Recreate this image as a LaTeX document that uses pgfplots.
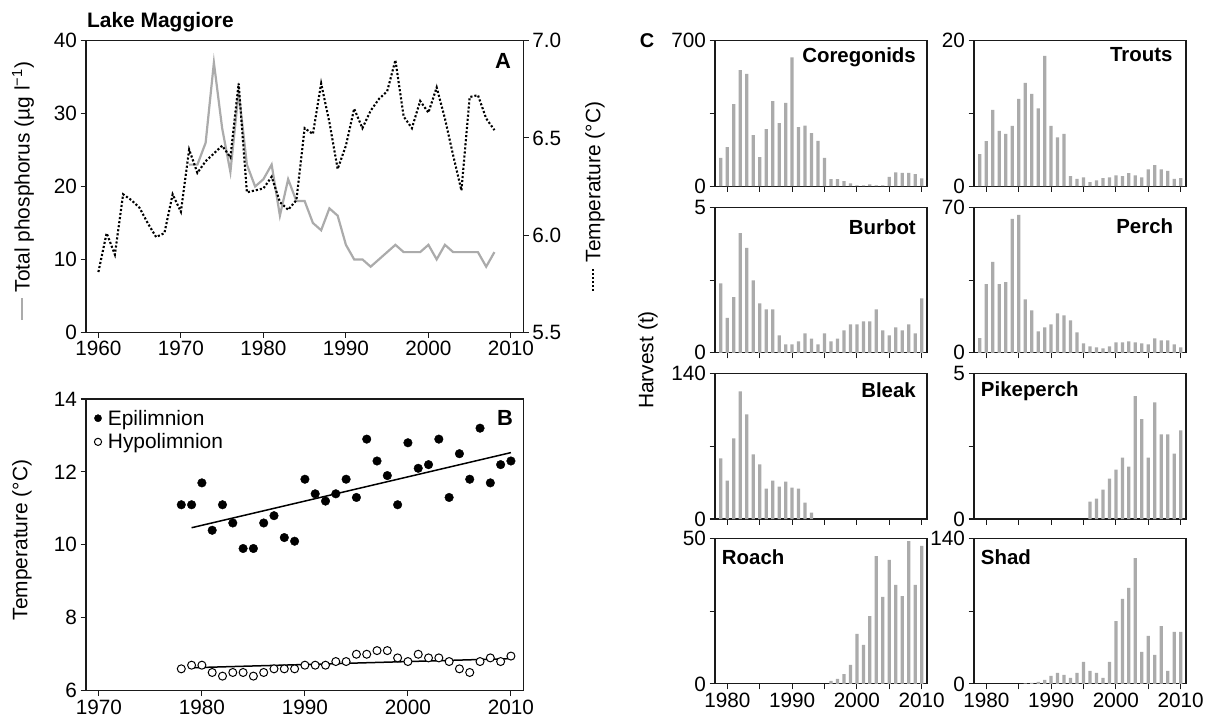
\documentclass[border=0pt]{standalone}
\usepackage{pgfplots}
\pgfplotsset{compat=1.18}
\usepackage{fontspec}
\setmainfont{Liberation Sans}
\definecolor{lgray}{HTML}{ABABAB}
\definecolor{axcol}{HTML}{1A1A1A}
\newcommand{\fs}{\fontsize{21}{24}\selectfont}
\newcommand{\ts}{\fontsize{20.8}{24}\selectfont}
\newcommand{\grayline}{{\color{lgray}\rule[0.3em]{22bp}{2.2bp}}}
\newcommand{\dotline}{\hbox to 24bp{\xleaders\hbox to 4bp{\hss\rule[0.3em]{2.1bp}{2.1bp}\hss}\hfill}}
\tikzset{lab/.style={font=\bfseries\fontsize{20.5}{24}\selectfont, inner sep=0pt}}
\pgfplotsset{
  base/.style={
    scale only axis, anchor=south west,
    axis line style={line width=1.1bp, draw=axcol},
    tick style={line width=1.1bp, draw=axcol},
    major tick length=5.5bp,
    tick align=outside,
    xtick pos=left, ytick pos=left,
    tick label style={font=\ts, text=black},
    /pgf/number format/assume math mode=true,
    x tick label style={/pgf/number format/1000 sep={}},
  },
  harv/.style={base, width=212bp, height=145.5bp, xmin=1978.1, xmax=2010.82, ymin=0,
    xtick={1980,1985,...,2010}, xticklabels={}},
  hbar/.style={ybar, bar width=0.5, fill=lgray, draw=none},
}
\begin{document}
\begin{tikzpicture}
\path[use as bounding box] (0bp,0bp) rectangle (1213bp,-725bp);

% ---------- Panel A ----------
\begin{axis}[base, at={(86bp,-332.3bp)}, width=437.3bp, height=291.6bp,
  xmin=1958.5, xmax=2011.5, ymin=0, ymax=40,
  xtick={1960,1970,...,2010}, ytick={0,10,...,40}]
\addplot[lgray, line width=2.2bp] coordinates {
(1971,23)(1972,23)(1973,26)(1974,37)(1975,28)(1976,22)(1977,33)(1978,23)(1979,20)(1980,21)
(1981,23)(1982,16)(1983,21)(1984,18)(1985,18)(1986,15)(1987,14)(1988,17)(1989,16)
(1990,12)(1991,10)(1992,10)(1993,9)(1994,10)(1995,11)(1996,12)(1997,11)(1998,11)
(1999,11)(2000,12)(2001,10)(2002,12)(2003,11)(2004,11)(2005,11)(2006,11)(2007,9)(2008,11)};
\end{axis}
\begin{axis}[base, at={(86bp,-332.3bp)}, width=437.3bp, height=291.6bp,
  xmin=1958.5, xmax=2011.5, ymin=5.5, ymax=7.0, hide x axis,
  ytick pos=right, yticklabel pos=right, ytick={5.5,6.0,6.5,7.0},
  yticklabel style={/pgf/number format/.cd, fixed, fixed zerofill, precision=1}]
\addplot[black, line width=2.1bp, dash pattern=on 2.1bp off 2bp] coordinates {
(1960,5.81)(1961,6.01)(1962,5.90)(1963,6.21)(1964,6.18)(1965,6.14)(1966,6.06)(1967,5.99)
(1968,6.01)(1969,6.21)(1970,6.12)(1971,6.44)(1972,6.32)(1973,6.38)(1974,6.42)(1975,6.46)
(1976,6.40)(1977,6.78)(1978,6.22)(1979,6.23)(1980,6.24)(1981,6.30)(1982,6.17)(1983,6.13)
(1984,6.18)(1985,6.55)(1986,6.52)(1987,6.78)(1988,6.58)(1989,6.34)(1990,6.46)(1991,6.65)
(1992,6.55)(1993,6.64)(1994,6.70)(1995,6.74)(1996,6.90)(1997,6.61)(1998,6.55)(1999,6.69)
(2000,6.63)(2001,6.76)(2002,6.60)(2003,6.41)(2004,6.23)(2005,6.71)(2006,6.72)(2007,6.60)(2008,6.54)};
\end{axis}

% ---------- Panel B ----------
\begin{axis}[base, at={(86bp,-690.7bp)}, width=437.3bp, height=291.7bp,
  xmin=1968.75, xmax=2011.2, ymin=6, ymax=14,
  xtick={1970,1980,...,2010}, ytick={6,8,...,14},
  legend style={draw=none, fill=none, at={(axis description cs:0.0165,0.972)}, anchor=north west,
    font=\fs, row sep=4bp, inner sep=1bp, nodes={inner sep=1.5bp},
    /tikz/every odd column/.append style={column sep=4.8bp}},
  legend cell align=left,
  legend image code/.code={\draw[#1, mark size=3.6bp] plot coordinates {(0bp,0bp)};}]
\addplot[black, line width=1.5bp, forget plot] coordinates {(1979,10.47)(2010,12.53)};
\addplot[black, line width=1.5bp, forget plot] coordinates {(1979,6.63)(2010,6.88)};
\addplot[only marks, mark=*, mark size=4.3bp, black] coordinates {
(1978,11.1)(1979,11.1)(1980,11.7)(1981,10.4)(1982,11.1)(1983,10.6)(1984,9.9)(1985,9.9)
(1986,10.6)(1987,10.8)(1988,10.2)(1989,10.1)(1990,11.8)(1991,11.4)(1992,11.2)(1993,11.4)
(1994,11.8)(1995,11.3)(1996,12.9)(1997,12.3)(1998,11.9)(1999,11.1)(2000,12.8)(2001,12.1)
(2002,12.2)(2003,12.9)(2004,11.3)(2005,12.5)(2006,11.8)(2007,13.2)(2008,11.7)(2009,12.2)(2010,12.3)};
\addlegendentry{Epilimnion}
\addplot[only marks, mark=*, mark size=4bp, mark options={draw=black, fill=white, line width=1bp}] coordinates {
(1978,6.6)(1979,6.7)(1980,6.7)(1981,6.5)(1982,6.4)(1983,6.5)(1984,6.5)(1985,6.4)
(1986,6.5)(1987,6.6)(1988,6.6)(1989,6.6)(1990,6.7)(1991,6.7)(1992,6.7)(1993,6.8)
(1994,6.8)(1995,7.0)(1996,7.0)(1997,7.1)(1998,7.1)(1999,6.9)(2000,6.8)(2001,7.0)
(2002,6.9)(2003,6.9)(2004,6.8)(2005,6.6)(2006,6.5)(2007,6.8)(2008,6.9)(2009,6.8)(2010,6.95)};
\addlegendentry{Hypolimnion}
\end{axis}

% ---------- Panel C ----------
\begin{axis}[harv, at={(715bp,-186.2bp)}, ymax=700, ytick={0,350,700}, yticklabels={0,,700}]
\addplot[hbar] coordinates {
(1979,136)(1980,188)(1981,395)(1982,559)(1983,541)(1984,246)(1985,140)(1986,275)
(1987,409)(1988,303)(1989,401)(1990,620)(1991,284)(1992,292)(1993,255)(1994,218)
(1995,136)(1996,34)(1997,34)(1998,24)(1999,14)(2000,4)(2001,4)(2002,9)
(2003,4)(2004,4)(2005,45)(2006,67)(2007,64)(2008,64)(2009,58)(2010,38)};
\node[lab, anchor=north east] at (rel axis cs:0.948,0.955) {Coregonids};
\end{axis}
\begin{axis}[harv, at={(974bp,-186.2bp)}, ymax=20, ytick={0,10,20}, yticklabels={0,,20}]
\addplot[hbar] coordinates {
(1979,4.4)(1980,6.2)(1981,10.5)(1982,7.6)(1983,7.2)(1984,8.3)(1985,12.0)(1986,14.2)
(1987,12.7)(1988,10.7)(1989,17.9)(1990,8.3)(1991,6.7)(1992,7.2)(1993,1.4)(1994,1.0)
(1995,1.2)(1996,0.55)(1997,0.8)(1998,1.1)(1999,1.2)(2000,1.5)(2001,1.4)(2002,1.8)
(2003,1.5)(2004,1.2)(2005,2.3)(2006,2.9)(2007,2.3)(2008,2.1)(2009,1.0)(2010,1.1)};
\node[lab, anchor=north east] at (rel axis cs:0.937,0.955) {Trouts};
\end{axis}
\begin{axis}[harv, at={(715bp,-352.8bp)}, ymax=5, ytick={0,2.5,5}, yticklabels={0,,5}]
\addplot[hbar] coordinates {
(1979,2.39)(1980,1.20)(1981,1.91)(1982,4.11)(1983,3.61)(1984,2.49)(1985,1.70)(1986,1.49)
(1987,1.49)(1988,0.60)(1989,0.29)(1990,0.29)(1991,0.39)(1992,0.67)(1993,0.49)(1994,0.29)
(1995,0.67)(1996,0.39)(1997,0.49)(1998,0.77)(1999,0.98)(2000,0.98)(2001,1.08)(2002,1.08)
(2003,1.49)(2004,0.77)(2005,0.60)(2006,0.87)(2007,0.77)(2008,0.98)(2009,0.67)(2010,1.87)};
\node[lab, anchor=north east] at (rel axis cs:0.948,0.913) {Burbot};
\end{axis}
\begin{axis}[harv, at={(974bp,-352.8bp)}, ymax=70, ytick={0,35,70}, yticklabels={0,,70}]
\addplot[hbar] coordinates {
(1979,7.1)(1980,33.1)(1981,43.8)(1982,33.1)(1983,34.0)(1984,64.4)(1985,66.3)(1986,25.7)
(1987,20.4)(1988,10.3)(1989,12.2)(1990,13.7)(1991,19.0)(1992,18.0)(1993,15.6)(1994,9.8)
(1995,4.5)(1996,3.1)(1997,2.6)(1998,2.1)(1999,3.1)(2000,5.0)(2001,5.0)(2002,5.5)
(2003,5.0)(2004,4.5)(2005,4.0)(2006,6.9)(2007,6.0)(2008,6.0)(2009,4.0)(2010,2.6)};
\node[lab, anchor=north east] at (rel axis cs:0.94,0.92) {Perch};
\end{axis}
\begin{axis}[harv, at={(715bp,-519bp)}, ymax=140, ytick={0,70,140}, yticklabels={0,,140}]
\addplot[hbar] coordinates {
(1979,58.3)(1980,37.0)(1981,77.6)(1982,122.9)(1983,100.7)(1984,62.1)(1985,52.5)(1986,29.3)
(1987,37.0)(1988,31.2)(1989,36.0)(1990,30.3)(1991,29.3)(1992,15.8)(1993,6.1)};
\node[lab, anchor=north east] at (rel axis cs:0.948,0.94) {Bleak};
\end{axis}
\begin{axis}[harv, at={(974bp,-519bp)}, ymax=5, ytick={0,2.5,5}, yticklabels={0,,5}]
\addplot[hbar] coordinates {
(1996,0.60)(1997,0.70)(1998,1.01)(1999,1.39)(2000,1.70)(2001,2.11)(2002,1.80)(2003,4.22)
(2004,3.43)(2005,2.11)(2006,4.01)(2007,2.91)(2008,2.91)(2009,2.25)(2010,3.05)};
\node[lab, anchor=north west] at (rel axis cs:0.032,0.948) {Pikeperch};
\end{axis}
\begin{axis}[harv, at={(715bp,-683.9bp)}, ymax=50, ytick={0,25,50}, yticklabels={0,,50},
  xticklabels={1980,,1990,,2000,,2010}]
\addplot[hbar] coordinates {
(1996,1.0)(1997,1.7)(1998,3.4)(1999,6.5)(2000,17.2)(2001,13.4)(2002,23.3)(2003,43.9)
(2004,29.9)(2005,42.6)(2006,34.0)(2007,30.2)(2008,49.1)(2009,34.0)(2010,47.4)};
\node[lab, anchor=north west] at (rel axis cs:0.032,0.925) {Roach};
\end{axis}
\begin{axis}[harv, at={(974bp,-683.9bp)}, ymax=140, ytick={0,70,140}, yticklabels={0,,140},
  xticklabels={1980,,1990,,2000,,2010}]
\addplot[hbar] coordinates {
(1986,0.6)(1987,1.0)(1988,1.9)(1989,3.8)(1990,7.7)(1991,10.6)(1992,8.6)(1993,5.8)
(1994,10.6)(1995,21.1)(1996,12.5)(1997,10.6)(1998,5.8)(1999,21.1)(2000,60.5)(2001,81.7)
(2002,92.3)(2003,121.1)(2004,30.8)(2005,46.1)(2006,27.9)(2007,55.7)(2008,12.5)(2009,50.0)(2010,50.0)};
\node[lab, anchor=north west] at (rel axis cs:0.032,0.925) {Shad};
\end{axis}

% ---------- Labels ----------
\node[anchor=base west, font=\bfseries\fs, inner sep=0pt] at (87bp,-27bp) {Lake Maggiore};
\node[font=\bfseries\fontsize{22}{26}\selectfont, inner sep=0pt] at (503bp,-61bp) {A};
\node[font=\bfseries\fontsize{22}{26}\selectfont, inner sep=0pt] at (505bp,-418bp) {B};
\node[font=\bfseries\fontsize{20}{24}\selectfont, inner sep=0pt] at (647bp,-41bp) {C};
\node[rotate=90, font=\fs, inner sep=0pt] at (23bp,-191bp) {\grayline\ Total phosphorus (µg l\textsuperscript{−1})};
\node[rotate=90, font=\fs, inner sep=0pt] at (595bp,-197bp) {\dotline\ Temperature (°C)};
\node[rotate=90, font=\fs, inner sep=0pt] at (22bp,-540bp) {Temperature (°C)};
\node[rotate=90, font=\fs, inner sep=0pt] at (648bp,-360bp) {Harvest (t)};
\end{tikzpicture}
\end{document}
